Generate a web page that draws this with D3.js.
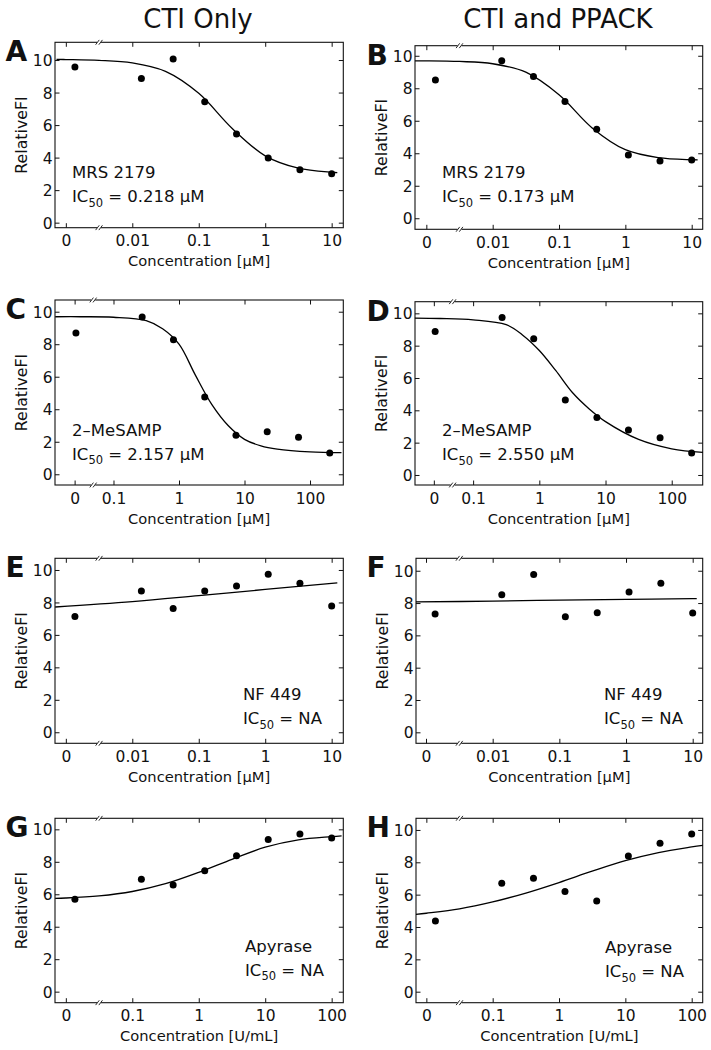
<!DOCTYPE html>
<html><head><meta charset="utf-8">
<script src="https://cdnjs.cloudflare.com/ajax/libs/d3/7.8.5/d3.min.js"></script>
<style>
body{margin:0;background:#fff}
svg{display:block}
text{font-family:"DejaVu Sans",sans-serif;fill:#111}
</style>
</head><body>
<svg id="chart" width="711" height="1050"></svg>
<script>
// ---------------- data ----------------
const columnTitles = ["CTI Only", "CTI and PPACK"];
const panelLetters = ["A","B","C","D","E","F","G","H"];
const compounds = ["MRS 2179","MRS 2179","2–MeSAMP","2–MeSAMP","NF 449","NF 449","Apyrase","Apyrase"];
const ic50Text = ["0.218 μM","0.173 μM","2.157 μM","2.550 μM","NA","NA","NA","NA"];
const xLabels = ["Concentration [μM]","Concentration [μM]","Concentration [μM]","Concentration [μM]",
                 "Concentration [μM]","Concentration [μM]","Concentration [U/mL]","Concentration [U/mL]"];
const yLabel = "RelativeFI";

// concentrations (0 = no inhibitor)
const concMRS     = [0, 0.0137, 0.0412, 0.123, 0.370, 1.11, 3.33, 10];
const concMeSAMP  = [0, 0.274, 0.823, 2.47, 7.41, 22.2, 66.7, 200];
const concApyrase = [0, 0.137, 0.412, 1.23, 3.70, 11.1, 33.3, 100];

// where the zero-concentration point is drawn on the log axis
const zeroPosMRS = 0.00137, zeroPosMeSAMP = 0.0267, zeroPosApyrase = 0.0137;

// x tick values and labels
const xTicksMRS = [0.001, 0.01, 0.1, 1, 10];
const xTickLabelsMRS = ["0","0.01","0.1","1","10"];
const xTicksMeSAMP = [0.0255, 0.1, 1, 10, 100];
const xTickLabelsMeSAMP = ["0","0.1","1","10","100"];
const xTicksApyrase = [0.01, 0.1, 1, 10, 100];
const xTickLabelsApyrase = ["0","0.1","1","10","100"];
const yTicks = [0, 2, 4, 6, 8, 10];

// axis break positions
const breakMRS = 0.00316, breakMeSAMP = 0.049, breakApyrase = 0.0316;

// measured relative FI
const valuesA = [9.57, 8.87, 10.06, 7.44, 5.45, 3.98, 3.26, 3.01];
const valuesB = [8.51, 9.70, 8.72, 7.18, 5.48, 3.90, 3.53, 3.59];
const valuesC = [8.69, 9.67, 8.28, 4.75, 2.40, 2.62, 2.27, 1.31];
const valuesD = [8.87, 9.75, 8.43, 4.64, 3.55, 2.78, 2.31, 1.36];
const valuesE = [7.13, 8.71, 7.62, 8.71, 9.01, 9.73, 9.18, 7.78];
const valuesF = [7.32, 8.52, 9.77, 7.15, 7.40, 8.68, 9.22, 7.38];
const valuesG = [5.69, 6.92, 6.57, 7.45, 8.38, 9.38, 9.71, 9.47];
const valuesH = [4.37, 6.70, 7.01, 6.19, 5.61, 8.39, 9.18, 9.75];

// fitted curves: concentration, value
const fitConcA = [0.000724, 0.001, 0.00316, 0.01, 0.0316, 0.1, 0.316, 1, 3.16, 10, 12.16];
const fitValsA = [10.04, 10.03, 9.98, 9.82, 9.30, 7.95, 5.81, 4.11, 3.35, 3.10, 3.08];
const fitConcB = [0.000676, 0.001, 0.00316, 0.01, 0.0316, 0.1, 0.316, 1, 3.16, 10, 12.3];
const fitValsB = [9.69, 9.69, 9.65, 9.51, 8.99, 7.60, 5.56, 4.22, 3.73, 3.60, 3.59];
const fitConcC = [0.0129, 0.0316, 0.1, 0.316, 0.562, 1, 1.778, 3.16, 5.62, 10, 17.8, 31.6, 100, 302];
const fitValsC = [9.69, 9.69, 9.66, 9.45, 8.95, 8.0, 6.1, 4.3, 3.0, 2.15, 1.75, 1.55, 1.38, 1.33];
const fitConcD = [0.0132, 0.0316, 0.1, 0.316, 0.562, 1, 1.778, 3.16, 5.62, 10, 31.6, 100, 295];
const fitValsD = [9.70, 9.68, 9.6, 9.3, 8.65, 7.7, 6.45, 5.1, 4.1, 3.3, 2.2, 1.62, 1.40];
const fitConcE = [0.000692, 0.01, 0.1, 1, 10, 12.16];
const fitValsE = [7.72, 8.05, 8.42, 8.8, 9.17, 9.2];
const fitConcF = [0.000708, 0.01, 0.1, 1, 10, 11.5];
const fitValsF = [8.07, 8.12, 8.18, 8.23, 8.27, 8.28];
const fitConcG = [0.00692, 0.01, 0.0316, 0.1, 0.316, 1, 3.16, 10, 31.6, 100, 141];
const fitValsG = [5.75, 5.77, 5.9, 6.17, 6.65, 7.35, 8.15, 8.9, 9.35, 9.55, 9.6];
const fitConcH = [0.00698, 0.01, 0.0316, 0.1, 0.316, 1, 3.16, 10, 31.6, 100, 146.6];
const fitValsH = [4.78, 4.85, 5.12, 5.55, 6.1, 6.75, 7.45, 8.1, 8.6, 8.95, 9.05];

// ---------------- layout ----------------
const boxes = [ [55,42.3,288.3,185.4],[415,45.7,287.7,183.6],
                [55,300,288.3,185],[415,301.7,287.7,183.3],
                [55,558.3,288.3,185],[416,558.3,286.7,185],
                [55,818.3,288.3,184.4],[416,818.3,286.7,184.4] ];
const xExp = [[-3.163,1.175],[-3.171,1.166],[-1.893,2.508],[-1.878,2.468],
              [-3.163,1.175],[-3.15,1.15],[-2.163,2.175],[-2.156,2.166]];
const yDom = [[-0.31,11.09],[-0.68,10.62],[-0.66,10.72],[-0.62,10.72],
              [-0.68,10.72],[-0.68,10.77],[-0.68,10.68],[-0.68,10.72]];
const annX = [17, 27, 17, 27, 188, 188, 190, 189];
const annDy = [49.5, 51, 49.5, 49, 43, 43, 51, 49.5];

const conc = [concMRS, concMRS, concMeSAMP, concMeSAMP, concMRS, concMRS, concApyrase, concApyrase];
const zeroPos = [zeroPosMRS, zeroPosMRS, zeroPosMeSAMP, zeroPosMeSAMP, zeroPosMRS, zeroPosMRS, zeroPosApyrase, zeroPosApyrase];
const xTicks = [xTicksMRS, xTicksMRS, xTicksMeSAMP, xTicksMeSAMP, xTicksMRS, xTicksMRS, xTicksApyrase, xTicksApyrase];
const xTickLabels = [xTickLabelsMRS, xTickLabelsMRS, xTickLabelsMeSAMP, xTickLabelsMeSAMP, xTickLabelsMRS, xTickLabelsMRS, xTickLabelsApyrase, xTickLabelsApyrase];
const breaks = [breakMRS, breakMRS, breakMeSAMP, breakMeSAMP, breakMRS, breakMRS, breakApyrase, breakApyrase];
const values = [valuesA, valuesB, valuesC, valuesD, valuesE, valuesF, valuesG, valuesH];
const fitConc = [fitConcA, fitConcB, fitConcC, fitConcD, fitConcE, fitConcF, fitConcG, fitConcH];
const fitVals = [fitValsA, fitValsB, fitValsC, fitValsD, fitValsE, fitValsF, fitValsG, fitValsH];

const svg = d3.select("#chart");

// column titles
[[198, 0], [558, 1]].forEach(([cx, i]) => {
  svg.append("text").attr("x", cx).attr("y", 28).attr("text-anchor", "middle")
     .style("font-size", "26px").text(columnTitles[i]);
});

const TICK = 4.5;
const tickFont = "15.5px";

panelLetters.forEach((letter, i) => {
  const [bx, by, bw, bh] = boxes[i];
  const x = d3.scaleLog().domain([10 ** xExp[i][0], 10 ** xExp[i][1]]).range([bx, bx + bw]);
  const y = d3.scaleLinear().domain(yDom[i]).range([by + bh, by]);
  const g = svg.append("g");

  // axes
  const bottom = g.append("g").attr("transform", `translate(0,${by + bh})`)
    .call(d3.axisBottom(x).tickValues(xTicks[i]).tickFormat((d, k) => xTickLabels[i][k])
          .tickSizeInner(-TICK).tickSizeOuter(0).tickPadding(7.5));
  const top = g.append("g").attr("transform", `translate(0,${by})`)
    .call(d3.axisTop(x).tickValues(xTicks[i]).tickFormat("").tickSizeInner(-TICK).tickSizeOuter(0));
  const left = g.append("g").attr("transform", `translate(${bx},0)`)
    .call(d3.axisLeft(y).tickValues(yTicks).tickSizeInner(-TICK).tickSizeOuter(0).tickPadding(2.5));
  const right = g.append("g").attr("transform", `translate(${bx + bw},0)`)
    .call(d3.axisRight(y).tickValues(yTicks).tickFormat("").tickSizeInner(-TICK).tickSizeOuter(0));
  [bottom, top, left, right].forEach(a => {
    a.select(".domain").remove();
    a.selectAll(".tick line").attr("stroke", "#111").attr("stroke-width", 1);
    a.selectAll("text").attr("font-family", null).style("font-size", tickFont).attr("fill", "#111");
  });
  left.selectAll("text").attr("dy", "0.36em");

  // box
  g.append("rect").attr("x", bx).attr("y", by).attr("width", bw).attr("height", bh)
   .attr("fill", "none").attr("stroke", "#111").attr("stroke-width", 1.1);

  // axis break marks
  const bxp = x(breaks[i]);
  [by, by + bh].forEach(yy => {
    g.append("rect").attr("x", bxp - 2).attr("y", yy - 1.2).attr("width", 4).attr("height", 2.4).attr("fill", "#fff");
    [-1.6, 1.6].forEach(off => {
      g.append("line").attr("x1", bxp + off - 1.8).attr("y1", yy + 2.4)
       .attr("x2", bxp + off + 1.8).attr("y2", yy - 2.4)
       .attr("stroke", "#111").attr("stroke-width", 0.9);
    });
  });

  // fitted curve
  const fit = fitConc[i].map((c, k) => [c, fitVals[i][k]]);
  g.append("path").datum(fit)
   .attr("d", d3.line().x(d => x(d[0])).y(d => y(d[1])).curve(d3.curveCatmullRom.alpha(0.5)))
   .attr("fill", "none").attr("stroke", "#000").attr("stroke-width", 1.3);

  // data points
  const pts = conc[i].map((c, k) => [c === 0 ? zeroPos[i] : c, values[i][k]]);
  g.selectAll("circle.pt").data(pts).join("circle").attr("class", "pt")
   .attr("cx", d => x(d[0])).attr("cy", d => y(d[1])).attr("r", 3.5).attr("fill", "#000");

  // axis labels
  g.append("text").attr("x", bx + bw / 2).attr("y", by + bh + 38.5).attr("text-anchor", "middle")
   .style("font-size", "14.7px").text(xLabels[i]);
  g.append("text").attr("transform", `translate(${bx - 28},${by + bh / 2}) rotate(-90)`)
   .attr("text-anchor", "middle").style("font-size", "15.8px").text(yLabel);

  // panel letter
  g.append("text").attr("x", i % 2 === 0 ? 5.5 : 366.5).attr("y", by + 19)
   .style("font-size", "28px").style("font-weight", "bold").text(letter);

  // annotation
  const ax = bx + annX[i], ay = by + bh - annDy[i];
  g.append("text").attr("x", ax).attr("y", ay).style("font-size", "16.5px").text(compounds[i]);
  const t2 = g.append("text").attr("x", ax).attr("y", ay + 24).style("font-size", "16.5px");
  t2.append("tspan").text("IC");
  t2.append("tspan").attr("dy", 4.5).style("font-size", "11.5px").text("50");
  t2.append("tspan").attr("dy", -4.5).text(" = " + ic50Text[i]);
});
</script>
</body></html>
